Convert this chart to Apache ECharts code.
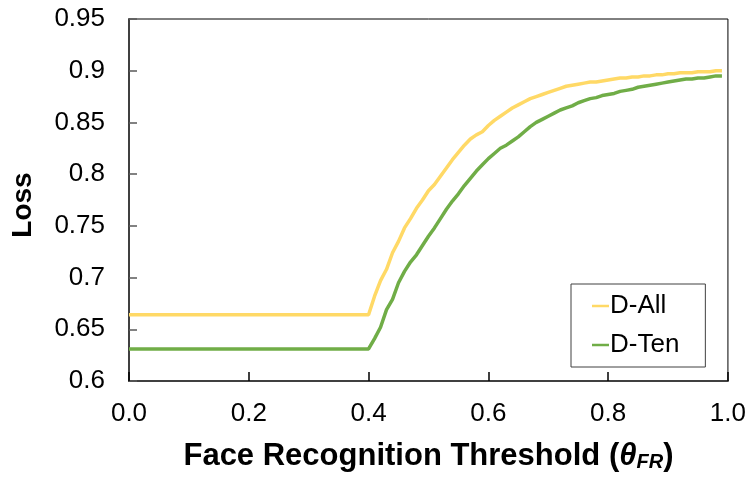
<!DOCTYPE html>
<html>
<head>
<meta charset="utf-8">
<script src="https://cdn.jsdelivr.net/npm/echarts@6/dist/echarts.min.js"></script>
<style>html,body{margin:0;padding:0;background:#fff;}#c{width:749px;height:477px;}</style>
</head>
<body>
<div id="c"></div>
<script>
var thresholds = [0.00,0.40,0.41,0.42,0.43,0.44,0.45,0.46,0.47,0.48,0.49,0.50,0.51,0.52,0.53,0.54,0.55,0.56,0.57,0.58,0.59,0.60,0.61,0.62,0.63,0.64,0.65,0.66,0.67,0.68,0.69,0.70,0.71,0.72,0.73,0.74,0.75,0.76,0.77,0.78,0.79,0.80,0.81,0.82,0.83,0.84,0.85,0.86,0.87,0.88,0.89,0.90,0.91,0.92,0.93,0.94,0.95,0.96,0.97,0.98,0.99];
var lossAll = [0.664,0.664,0.682,0.697,0.708,0.724,0.735,0.748,0.757,0.767,0.775,0.784,0.790,0.798,0.806,0.814,0.821,0.828,0.834,0.838,0.841,0.847,0.852,0.856,0.860,0.864,0.867,0.870,0.873,0.875,0.877,0.879,0.881,0.883,0.885,0.886,0.887,0.888,0.889,0.889,0.890,0.891,0.892,0.893,0.893,0.894,0.894,0.895,0.895,0.896,0.896,0.897,0.897,0.898,0.898,0.898,0.899,0.899,0.899,0.900,0.900];
var lossTen = [0.631,0.631,0.641,0.652,0.669,0.679,0.695,0.706,0.715,0.722,0.731,0.740,0.748,0.757,0.766,0.774,0.781,0.789,0.796,0.803,0.809,0.815,0.820,0.825,0.828,0.832,0.836,0.841,0.846,0.850,0.853,0.856,0.859,0.862,0.864,0.866,0.869,0.871,0.873,0.874,0.876,0.877,0.878,0.880,0.881,0.882,0.884,0.885,0.886,0.887,0.888,0.889,0.890,0.891,0.892,0.892,0.893,0.893,0.894,0.895,0.895];
var seriesNames = ['D-All','D-Ten'];

function pairs(xs, ys){ return xs.map(function(x,i){return [x, ys[i]];}); }

var FONT = '"Liberation Sans", Arial, sans-serif';
var chart = echarts.init(document.getElementById('c'), null, {renderer:'canvas'});
chart.setOption({
  animation:false,
  backgroundColor:'#fff',
  grid:{left:129,right:20,top:19,bottom:95,show:true,borderColor:'#000',borderWidth:1,backgroundColor:'transparent'},
  xAxis:{
    type:'value',min:0,max:1,interval:0.2,
    name:'Face Recognition Threshold ({t|θ}{s|FR})',
    nameLocation:'middle',nameGap:59,
    nameTextStyle:{fontFamily:FONT,fontSize:31,fontWeight:'bold',color:'#000',
      rich:{t:{fontFamily:FONT,fontSize:31,fontWeight:'bold',fontStyle:'italic',color:'#000'},
            s:{fontFamily:FONT,fontSize:20,fontWeight:'bold',fontStyle:'italic',color:'#000',padding:[12,0,0,0]}}},
    axisLine:{show:true,lineStyle:{color:'#404040',width:2}},
    axisTick:{show:true,inside:true,length:9,lineStyle:{color:'#000',width:1.5}},
    axisLabel:{fontFamily:FONT,fontSize:26,color:'#000',margin:20,formatter:function(v){return v.toFixed(1);}},
    splitLine:{show:false}
  },
  yAxis:{
    type:'value',min:0.6,max:0.95,interval:0.05,
    name:'Loss',nameLocation:'middle',nameGap:92,nameRotate:90,
    nameTextStyle:{fontFamily:FONT,fontSize:28,fontWeight:'bold',color:'#000',padding:[0,10,0,0]},
    axisLine:{show:true,lineStyle:{color:'#404040',width:2}},
    axisTick:{show:true,inside:true,length:8,lineStyle:{color:'#595959',width:1.5}},
    axisLabel:{fontFamily:FONT,fontSize:26,color:'#000',margin:24,formatter:function(v){return String(+v.toFixed(2));}},
    splitLine:{show:false}
  },
  legend:{
    orient:'vertical',left:571,top:284,
    padding:[8,26,8,21],itemGap:11,
    borderColor:'#404040',borderWidth:1,backgroundColor:'#fff',
    icon:'rect',itemWidth:17,itemHeight:2.5,
    textStyle:{fontFamily:FONT,fontSize:26,color:'#000',lineHeight:28,padding:[0,0,0,-4]},
    data:seriesNames
  },
  series:[
    {name:seriesNames[0],type:'line',data:pairs(thresholds,lossAll),showSymbol:false,symbol:'none',
      lineStyle:{color:'#FFD966',width:3.5},itemStyle:{color:'#FFD966'}},
    {name:seriesNames[1],type:'line',data:pairs(thresholds,lossTen),showSymbol:false,symbol:'none',
      lineStyle:{color:'#70AD47',width:3.5},itemStyle:{color:'#70AD47'}}
  ]
});
</script>
</body>
</html>
